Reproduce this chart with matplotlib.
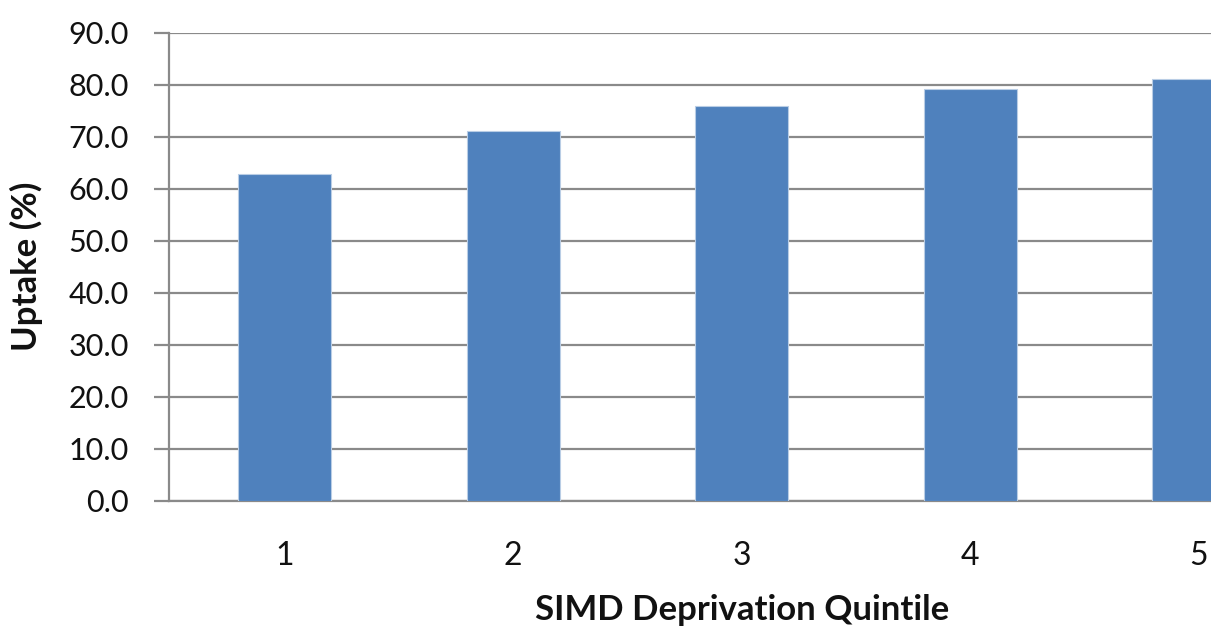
import matplotlib
matplotlib.use("Agg")
import matplotlib.pyplot as plt
from matplotlib.ticker import FormatStrFormatter

categories = ["1", "2", "3", "4", "5"]
uptake = [62.9, 71.2, 76.0, 79.3, 81.1]

plt.rcParams['font.family'] = ['Lato', 'DejaVu Sans']

fig = plt.figure(figsize=(12.11, 6.28), dpi=100)
ax = fig.add_axes([0.1398, 0.203, 1.0 - 0.1398, 0.9475 - 0.203])

x = list(range(len(categories)))
ax.bar(x, uptake, width=0.406, color="#4f81bd", edgecolor="#b9cde5", linewidth=0.8, zorder=3)

xmin, xmax = -0.505, 4.054
ax.set_xlim(xmin, xmax)
ax.set_ylim(0, 90)
ax.set_yticks(range(0, 91, 10))
ax.yaxis.set_major_formatter(FormatStrFormatter("%.1f"))
ax.set_xticks(x)
ax.set_xticklabels(categories)

ax.grid(axis="y", color="#8a8a8a", linewidth=1.6, zorder=0)
for s in ["top", "right"]:
    ax.spines[s].set_visible(False)
ax.spines["left"].set_color("#8a8a8a")
ax.spines["left"].set_linewidth(1.6)
ax.spines["bottom"].set_color("#8a8a8a")
ax.spines["bottom"].set_linewidth(1.6)

ax.tick_params(axis="y", length=11, width=1.6, color="#8a8a8a", labelsize=22, pad=18, labelcolor="#111111")
ax.tick_params(axis="x", length=0, labelsize=23, pad=29, labelcolor="#111111")

ax.set_ylabel("Uptake (%)", fontsize=25, fontweight="bold", color="#111111")
ax.yaxis.set_label_coords(-0.1212, 0.5)
ax.set_xlabel("SIMD Deprivation Quintile", fontsize=25, fontweight="bold", color="#111111")
ax.xaxis.label.set_va("baseline")
ax.xaxis.set_label_coords((2 - xmin) / (xmax - xmin), -0.2545)

fig.savefig("out.png", dpi=100)
